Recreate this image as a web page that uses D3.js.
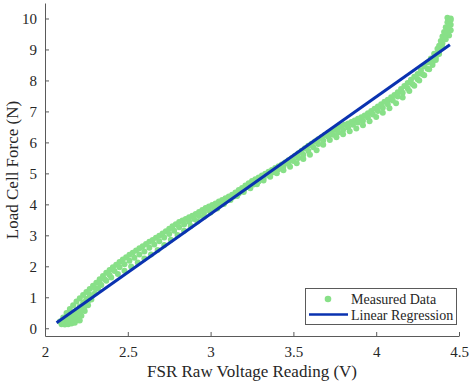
<!DOCTYPE html>
<html>
<head>
<meta charset="utf-8">
<script src="https://cdn.jsdelivr.net/npm/d3@7"></script>
<style>
  body { margin: 0; background: #fff; }
  svg { font-family: "Liberation Serif", "Times New Roman", serif; }
</style>
</head>
<body>
<svg id="vis" width="474" height="384"></svg>
<script>
// upper row of measured points (voltage, force)
var upperV = [2.09,2.11,2.13,2.15,2.17,2.19,2.21,2.23,2.25,2.27,2.29,2.31,2.33,2.35,2.37,2.39,2.41,2.43,2.45,2.47,
  2.49,2.51,2.53,2.55,2.57,2.59,2.61,2.63,2.65,2.67,2.69,2.71,2.73,2.75,2.77,2.79,2.81,2.83,2.85,2.87,
  2.89,2.91,2.93,2.95,2.97,2.99,3.01,3.03,3.05,3.07,3.09,3.11,3.13,3.15,3.17,3.19,3.21,3.23,3.25,3.27,
  3.29,3.31,3.33,3.35,3.37,3.39,3.41,3.43,3.45,3.47,3.49,3.51,3.53,3.55,3.57,3.59,3.61,3.63,3.65,3.67,
  3.69,3.71,3.73,3.75,3.77,3.79,3.81,3.83,3.85,3.87,3.89,3.91,3.93,3.95,3.97,3.99,4.01,4.03,4.05,4.07,
  4.09,4.11,4.13,4.15,4.17,4.19,4.21,4.23,4.25,4.27,4.29,4.31,4.33,4.35,4.37,4.38,4.39,4.40,4.41,4.42,4.43,4.44];
var upperF = [0.22,0.35,0.49,0.62,0.74,0.86,0.97,1.07,1.17,1.27,1.37,1.47,1.58,1.69,1.79,1.88,1.97,2.05,2.14,2.22,
  2.29,2.37,2.44,2.51,2.58,2.65,2.72,2.79,2.85,2.92,2.99,3.06,3.13,3.21,3.29,3.36,3.43,3.48,3.53,3.58,
  3.63,3.69,3.75,3.82,3.88,3.93,3.98,4.03,4.09,4.14,4.20,4.25,4.31,4.38,4.46,4.53,4.61,4.68,4.75,4.81,
  4.87,4.93,4.99,5.05,5.11,5.17,5.23,5.29,5.35,5.42,5.49,5.57,5.65,5.73,5.81,5.89,5.96,6.03,6.10,6.17,
  6.24,6.31,6.37,6.42,6.47,6.52,6.57,6.61,6.66,6.71,6.76,6.81,6.87,6.94,7.01,7.09,7.16,7.23,7.31,7.38,
  7.46,7.53,7.62,7.72,7.82,7.92,8.02,8.12,8.21,8.33,8.46,8.58,8.71,8.86,9.02,9.12,9.27,9.42,9.56,9.72,9.88,9.98];

// middle row
var middleV = [2.12,2.15,2.18,2.21,2.24,2.27,2.30,2.33,2.36,2.39,2.42,2.45,2.48,2.51,2.54,2.57,2.60,2.63,2.66,2.69,
  2.72,2.75,2.78,2.81,2.84,2.87,2.90,2.93,2.96,2.99,3.02,3.05,3.08,3.11,3.14,3.17,3.20,3.23,3.26,3.29,
  3.32,3.35,3.38,3.41,3.44,3.47,3.50,3.53,3.56,3.59,3.62,3.65,3.68,3.71,3.74,3.77,3.80,3.83,3.86,3.89,
  3.92,3.95,3.98,4.01,4.04,4.07,4.10,4.13,4.16,4.19,4.22,4.25,4.28,4.31,4.34,4.36,4.38,4.40,4.42,4.43,
  4.44,4.45,4.44,4.45,4.43,4.45];
var middleF = [0.25,0.35,0.50,0.65,0.85,1.08,1.30,1.45,1.58,1.72,1.85,1.97,2.07,2.18,2.28,2.38,2.48,2.60,2.70,2.81,
  2.93,3.04,3.15,3.26,3.35,3.44,3.53,3.62,3.72,3.81,3.90,3.98,4.06,4.15,4.25,4.35,4.45,4.55,4.64,4.74,
  4.84,4.94,5.04,5.13,5.22,5.31,5.40,5.50,5.60,5.72,5.84,5.95,6.06,6.18,6.25,6.32,6.40,6.48,6.57,6.64,
  6.70,6.80,6.90,7.01,7.12,7.23,7.35,7.48,7.60,7.74,7.88,8.04,8.20,8.38,8.58,8.74,8.95,9.20,9.48,9.65,
  9.85,9.62,9.45,9.80,10.02,10.00];

// lower row
var lowerV = [2.10,2.12,2.14,2.16,2.18,2.20,2.22,2.24,2.26,2.28,2.30,2.32,2.34,2.37,2.40,2.44,2.48,2.52,2.56,2.60,
  2.64,2.68,2.72,2.76,2.80,2.84,2.88,2.92,2.96,3.00,3.04,3.08,3.12,3.16,3.20,3.24,3.28,3.32,3.36,3.40,
  3.44,3.48,3.52,3.56,3.60,3.64,3.68,3.72,3.76,3.80,3.84,3.88,3.92,3.96,4.00,4.04,4.08,4.12,4.16,4.20,
  4.23,4.26,4.29,4.32,4.34,4.36,4.38,4.40,4.42,4.43,4.44,4.45];
var lowerF = [0.13,0.12,0.13,0.15,0.18,0.26,0.40,0.56,0.74,0.93,1.12,1.28,1.40,1.53,1.64,1.75,1.86,1.99,2.12,2.25,
  2.38,2.53,2.69,2.86,3.01,3.15,3.30,3.45,3.60,3.74,3.87,4.01,4.14,4.27,4.40,4.52,4.65,4.77,4.89,5.00,
  5.10,5.21,5.33,5.46,5.60,5.75,5.92,6.08,6.17,6.26,6.36,6.45,6.55,6.68,6.82,6.96,7.10,7.26,7.45,7.66,
  7.83,8.00,8.17,8.36,8.50,8.66,8.85,9.06,9.33,9.55,9.75,9.95];

// extra points in the dense start region
var startV = [2.11,2.13,2.14,2.15,2.16,2.17,2.18,2.19,2.19,2.20,2.21,2.22,2.23,2.24,2.25,2.26,2.17,2.21];
var startF = [0.18,0.28,0.20,0.38,0.27,0.48,0.36,0.58,0.30,0.46,0.70,0.58,0.82,0.70,0.95,0.88,0.20,0.25];

// fitted line end points
var fitV = [2.07, 4.445];
var fitF = [0.18, 9.15];

var xTicks = [2, 2.5, 3, 3.5, 4, 4.5];
var yTicks = [0, 1, 2, 3, 4, 5, 6, 7, 8, 9, 10];

var green = "#88e088";
var blue = "#0a32b0";

var svg = d3.select("svg#vis");

var xScale = d3.scaleLinear().domain([2, 4.5]).range([45, 459]);
var yScale = d3.scaleLinear().domain([-0.25, 10.5]).range([336, 3]);

// axes (ticks point inward like matlab)
var xAxis = d3.axisBottom(xScale).tickValues(xTicks).tickSizeInner(-4).tickSizeOuter(0)
    .tickPadding(10).tickFormat(d3.format("~g"));
var yAxis = d3.axisLeft(yScale).tickValues(yTicks).tickSizeInner(-4).tickSizeOuter(0)
    .tickPadding(8).tickFormat(d3.format("~g"));

var gx = svg.append("g").attr("transform", "translate(0,336)").call(xAxis);
var gy = svg.append("g").attr("transform", "translate(45,0)").call(yAxis);

[gx, gy].forEach(function (g) {
    g.select(".domain").attr("stroke", "#5a5a5a").attr("stroke-width", 1);
    g.selectAll(".tick line").attr("stroke", "#5a5a5a");
    g.selectAll(".tick text").attr("fill", "#262626").style("font-size", "15px")
        .style("font-family", "Liberation Serif, serif");
});

// scatter
var pts = [];
[[upperV, upperF], [middleV, middleF], [lowerV, lowerF], [startV, startF]].forEach(function (s) {
    s[0].forEach(function (v, i) { pts.push({v: v, f: s[1][i]}); });
});

svg.append("g").selectAll("circle")
    .data(pts)
    .enter().append("circle")
    .attr("cx", function (d) { return xScale(d.v); })
    .attr("cy", function (d) { return yScale(d.f); })
    .attr("r", 3)
    .attr("fill", green);

// regression line
var line = d3.line().x(function (d) { return xScale(d[0]); }).y(function (d) { return yScale(d[1]); });
svg.append("path")
    .datum(fitV.map(function (v, i) { return [v, fitF[i]]; }))
    .attr("d", line)
    .attr("fill", "none")
    .attr("stroke", blue)
    .attr("stroke-width", 3);

// axis titles
svg.append("text")
    .attr("x", 252).attr("y", 377)
    .style("text-anchor", "middle")
    .style("font-size", "17px")
    .attr("fill", "#262626")
    .text("FSR Raw Voltage Reading (V)");

svg.append("text")
    .attr("transform", "translate(18,170) rotate(-90)")
    .style("text-anchor", "middle")
    .style("font-size", "17px")
    .attr("fill", "#262626")
    .text("Load Cell Force (N)");

// legend
var legend = svg.append("g");
legend.append("rect")
    .attr("x", 305.5).attr("y", 288.5)
    .attr("width", 151).attr("height", 36)
    .attr("fill", "#fff")
    .attr("stroke", "#5a5a5a")
    .attr("stroke-width", 1);
legend.append("circle")
    .attr("cx", 328).attr("cy", 299).attr("r", 3.3).attr("fill", green);
legend.append("line")
    .attr("x1", 309).attr("x2", 348).attr("y1", 314.5).attr("y2", 314.5)
    .attr("stroke", blue).attr("stroke-width", 2.5);
legend.append("text")
    .attr("x", 351).attr("y", 304)
    .style("font-size", "14px").attr("fill", "#262626")
    .text("Measured Data");
legend.append("text")
    .attr("x", 351).attr("y", 320)
    .style("font-size", "14px").attr("fill", "#262626")
    .text("Linear Regression");
</script>
</body>
</html>
